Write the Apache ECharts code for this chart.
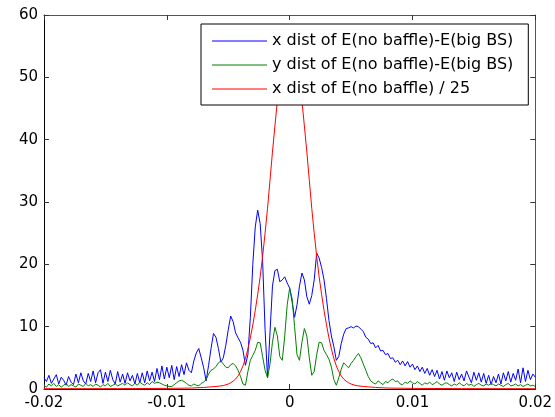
<!DOCTYPE html>
<html><head><meta charset="utf-8">
<script src="https://cdn.jsdelivr.net/npm/echarts@6/dist/echarts.min.js"></script>
<style>html,body{margin:0;padding:0;background:#fff}#c{width:555px;height:417px}</style>
</head><body><div id="c"></div>
<script>
// sample grid of the measured distributions
const xStart = -0.02, xStep = 0.0002;
const seriesNames = ['x dist of E(no baffle)-E(big BS)', 'y dist of E(no baffle)-E(big BS)', 'x dist of E(no baffle) / 25'];
const seriesColors = ['#0000ff', '#008000', '#ff0000'];

const blueY = [
  1.8,1.2,2.2,0.9,1.6,2.3,0.8,1.9,1.4,0.6,2.0,1.1,0.7,2.4,1.0,2.6,1.3,0.8,2.5,1.2,
  2.9,1.0,2.6,3.1,0.9,2.7,1.2,3.0,1.5,0.8,2.8,1.1,2.4,0.9,2.6,1.3,2.2,0.8,2.5,1.0,
  2.6,1.0,2.9,1.3,2.7,1.2,3.3,1.5,3.7,1.6,3.5,1.8,3.8,1.5,3.6,2.0,3.9,2.3,4.2,3.0,
  2.6,4.5,5.8,6.5,5.0,3.4,1.3,3.8,6.5,8.9,
  8.3,6.5,4.3,5.0,7.0,9.5,11.7,10.8,9.0,8.2,
  7.5,6.2,3.8,5.5,11.5,20.0,26.0,28.7,26.5,20.5,
  9.5,1.8,9.0,16.5,19.0,19.2,17.2,17.5,18.0,17.0,
  16.2,14.0,11.5,13.5,16.5,18.6,17.5,14.8,13.6,15.0,
  17.5,21.8,21.0,19.5,17.5,14.5,11.0,8.5,6.8,4.6,
  5.2,7.3,8.8,9.7,9.8,10.0,9.8,10.1,10.0,9.6,
  9.2,8.3,8.0,7.3,7.4,6.6,7.0,6.1,6.2,5.5,
  5.7,4.9,5.0,4.3,4.6,3.9,4.5,3.7,4.4,3.5,
  4.0,3.1,3.7,2.8,3.5,2.5,3.3,2.2,3.1,2.0,
  3.0,
  1.6,2.8,1.4,2.9,1.8,2.6,1.2,2.7,1.5,2.4,
  1.3,2.9,1.9,1.0,2.7,1.4,2.6,1.1,2.5,0.9,
  2.2,0.7,2.0,1.0,2.4,0.8,2.6,1.3,2.8,1.1,
  2.5,1.4,3.2,1.0,3.4,1.2,3.0,1.5,2.4,1.9
];

const greenY = [
  0.6,0.3,0.8,0.5,0.9,0.4,0.7,0.3,0.6,0.9,0.4,0.7,0.5,0.3,0.8,0.6,0.4,0.9,0.5,0.7,
  0.4,0.8,0.6,0.3,0.7,0.5,0.9,0.4,0.6,0.8,0.5,0.7,0.9,0.6,1.0,0.7,0.5,0.9,0.6,1.1,
  0.8,0.6,1.0,0.7,1.2,0.9,1.1,1.0,0.8,0.6,0.5,0.4,0.4,0.7,1.0,1.3,1.4,1.2,0.9,0.6,
  0.5,0.8,0.6,0.5,0.9,1.1,1.5,2.4,3.0,3.2,
  3.6,4.2,4.5,4.0,3.5,3.4,3.9,4.1,3.7,3.0,
  2.0,0.8,0.6,2.8,4.6,5.4,6.2,7.5,7.4,5.2,
  3.0,1.8,4.0,7.5,9.9,8.5,5.2,4.6,8.5,13.5,
  16.2,14.5,10.0,5.5,4.6,7.5,9.7,8.5,5.0,2.2,
  2.8,5.5,7.5,7.4,6.2,5.5,4.8,3.5,1.5,0.6,
  1.8,3.2,4.2,3.8,3.4,4.1,4.6,5.2,5.7,5.0,
  4.0,3.0,2.0,1.3,1.0,0.8,1.3,1.0,0.7,1.2,
  1.0,1.4,1.6,1.2,1.3,0.8,
  0.7,1.1,0.9,1.3,1.0,0.8,1.2,0.9,0.6,1.0,0.8,1.1,0.7,0.9,1.2,0.8,0.6,0.9,1.0,0.7,
  0.5,0.8,0.6,1.0,0.7,0.5,0.9,0.6,0.8,0.4,0.7,0.9,0.6,0.5,0.8,0.6,0.9,0.7,0.5,0.8,
  0.6,0.4,0.7,0.9,0.5,0.6,0.8,0.5,0.7,0.4,0.6,0.8,0.5,0.6,0.4
];

const redX = [-0.02,-0.014,-0.01,-0.008,-0.007,-0.006,-0.0054,-0.005,-0.0048,-0.0046,-0.0044,-0.0042,-0.004,-0.0038,-0.0036,-0.0034,-0.0032,-0.003,-0.0028,-0.0026,-0.0024,-0.0022,-0.002,-0.0018,-0.0016,-0.0014,-0.0012,-0.001,-0.0008,-0.0006,-0.0004,-0.0002,0,
  0.0002,0.0004,0.0006,0.0008,0.001,0.0012,0.0014,0.0016,0.0018,0.002,0.0022,0.0024,0.0026,0.0028,0.003,0.0032,0.0034,0.0036,0.0038,0.004,0.0042,0.0044,0.0046,0.0048,0.005,0.0054,0.006,0.007,0.008,0.01,0.014,0.02];
const redY = [0.05,0.06,0.1,0.15,0.25,0.4,0.55,0.8,1.0,1.25,1.6,2.1,2.8,3.7,4.9,6.4,8.2,10.3,12.6,15.2,18.0,21.3,25.0,29.0,33.5,38.0,42.2,46.2,49.7,52.7,55.0,56.5,57.0,
  56.5,55.0,52.7,49.7,46.2,42.2,38.0,33.5,29.0,25.0,21.3,18.0,15.2,12.6,10.3,8.2,6.4,4.9,3.7,2.8,2.1,1.6,1.25,1.0,0.8,0.55,0.4,0.25,0.15,0.1,0.06,0.05];

const xs = blueY.map((_, i) => +(xStart + i * xStep).toFixed(4));
const pairs = (xa, ya) => xa.map((x, i) => [x, ya[i]]);

const font = {fontFamily: 'DejaVu Sans', fontSize: 15, color: '#000'};
const xAxisBase = {type: 'value', min: -0.02, max: 0.02, interval: 0.01, splitLine: {show: false}};
const yAxisBase = {type: 'value', min: 0, max: 60, interval: 10, splitLine: {show: false}};

const chart = echarts.init(document.getElementById('c'), null, {renderer: 'canvas'});
chart.setOption({
  animation: false,
  grid: {left: 44, right: 17, top: 15, bottom: 28},
  legend: {
    data: seriesNames, orient: 'vertical', left: 201, top: 24,
    padding: [7, 15, 6, 11], itemGap: 4, itemWidth: 55, itemHeight: 1, icon: 'rect',
    backgroundColor: '#fff', borderColor: '#000', borderWidth: 1, borderRadius: 0,
    textStyle: {fontFamily: 'DejaVu Sans', fontSize: 16, color: '#000', lineHeight: 20},
    selectedMode: false
  },
  xAxis: [
    Object.assign({}, xAxisBase, {position: 'bottom', axisLine: {onZero: false, lineStyle: {color: '#000'}},
      axisTick: {inside: true, length: 5, lineStyle: {color: '#333'}}, axisLabel: Object.assign({margin: 7}, font)}),
    Object.assign({}, xAxisBase, {position: 'top', axisLine: {onZero: false, lineStyle: {color: '#555'}},
      axisTick: {inside: true, length: 5, lineStyle: {color: '#333'}}, axisLabel: {show: false}})
  ],
  yAxis: [
    Object.assign({}, yAxisBase, {position: 'left', axisLine: {onZero: false, lineStyle: {color: '#000'}},
      axisTick: {inside: true, length: 5, lineStyle: {color: '#333'}}, axisLabel: Object.assign({margin: 6}, font)}),
    Object.assign({}, yAxisBase, {position: 'right', axisLine: {onZero: false, lineStyle: {color: '#555'}},
      axisTick: {inside: true, length: 5, lineStyle: {color: '#333'}}, axisLabel: {show: false}})
  ],
  series: [
    {name: seriesNames[0], type: 'line', data: pairs(xs, blueY), symbol: 'none', color: seriesColors[0], lineStyle: {width: 1, color: seriesColors[0]}, clip: true},
    {name: seriesNames[1], type: 'line', data: pairs(xs, greenY), symbol: 'none', color: seriesColors[1], lineStyle: {width: 1, color: seriesColors[1]}, clip: true},
    {name: seriesNames[2], type: 'line', data: pairs(redX, redY), symbol: 'none', color: seriesColors[2], lineStyle: {width: 1, color: seriesColors[2]}, clip: true}
  ]
});
</script>
</body></html>
